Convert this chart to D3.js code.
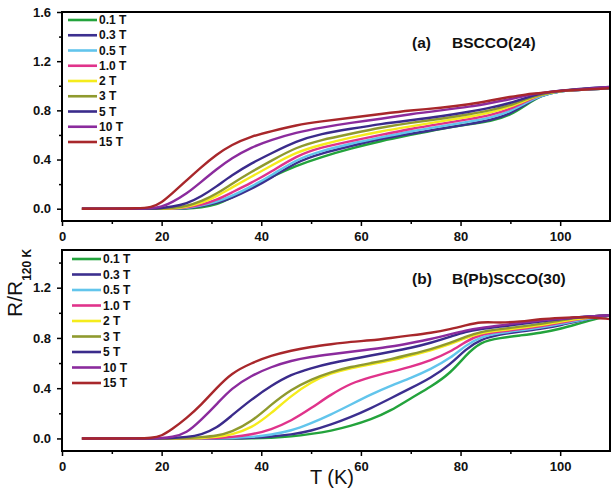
<!DOCTYPE html>
<html>
<head>
<meta charset="utf-8">
<script src="https://cdn.jsdelivr.net/npm/d3@7"></script>
<style>
  body { margin: 0; background: #fff; }
  svg { display: block; font-family: 'Liberation Sans', Arial, sans-serif; }
</style>
</head>
<body>
<div class="canvas"></div>
<script>
// field labels and colours, same order for both panels
const fields = ['0.1 T', '0.3 T', '0.5 T', '1.0 T', '2 T', '3 T', '5 T', '10 T', '15 T'];
const colors = ['#23a33c', '#3c2f8f', '#62c5ec', '#e0338b', '#f5ec1c', '#8f9a2e', '#3a2b8b', '#8b2b9d', '#a8272b'];

// (a) BSCCO(24)
const tempsA = [4, 10, 15, 18, 20, 22, 25, 28, 31, 34, 38, 42, 47, 52, 58, 64, 70, 76, 82, 86, 90, 93, 96, 100, 105, 110];
const a01 = [0, 0, 0, 0, 0, 0, 0, 0.01, 0.03, 0.09, 0.17, 0.26, 0.35, 0.42, 0.49, 0.55, 0.60, 0.65, 0.69, 0.71, 0.76, 0.84, 0.92, 0.96, 0.97, 0.98];
const a03 = [0, 0, 0, 0, 0, 0, 0.004, 0.02, 0.045, 0.085, 0.16, 0.25, 0.38, 0.45, 0.51, 0.57, 0.61, 0.65, 0.69, 0.72, 0.77, 0.85, 0.92, 0.96, 0.97, 0.98];
const a05 = [0, 0, 0, 0, 0, 0, 0.005, 0.025, 0.055, 0.10, 0.18, 0.27, 0.40, 0.47, 0.53, 0.58, 0.63, 0.67, 0.71, 0.74, 0.79, 0.86, 0.92, 0.96, 0.97, 0.98];
const a1 = [0, 0, 0, 0, 0, 0, 0.01, 0.03, 0.07, 0.13, 0.21, 0.30, 0.43, 0.50, 0.55, 0.60, 0.65, 0.69, 0.73, 0.76, 0.81, 0.87, 0.93, 0.96, 0.97, 0.985];
const a2 = [0, 0, 0, 0, 0, 0, 0.015, 0.045, 0.10, 0.17, 0.26, 0.35, 0.46, 0.52, 0.58, 0.63, 0.67, 0.71, 0.75, 0.78, 0.83, 0.88, 0.93, 0.96, 0.975, 0.985];
const a3 = [0, 0, 0, 0, 0, 0.005, 0.02, 0.06, 0.12, 0.20, 0.30, 0.39, 0.50, 0.56, 0.61, 0.66, 0.70, 0.73, 0.77, 0.80, 0.84, 0.89, 0.93, 0.96, 0.975, 0.985];
const a5 = [0, 0, 0, 0, 0.005, 0.015, 0.04, 0.10, 0.18, 0.27, 0.37, 0.45, 0.55, 0.61, 0.65, 0.69, 0.72, 0.75, 0.79, 0.82, 0.86, 0.90, 0.94, 0.96, 0.98, 0.99];
const a10 = [0, 0, 0, 0.005, 0.015, 0.05, 0.12, 0.22, 0.32, 0.41, 0.50, 0.56, 0.62, 0.66, 0.70, 0.73, 0.77, 0.80, 0.83, 0.86, 0.89, 0.92, 0.94, 0.96, 0.975, 0.99];
const a15 = [0, 0, 0.003, 0.01, 0.05, 0.12, 0.23, 0.34, 0.44, 0.52, 0.59, 0.63, 0.68, 0.71, 0.74, 0.77, 0.80, 0.82, 0.85, 0.88, 0.91, 0.93, 0.94, 0.96, 0.97, 0.98];

// (b) B(Pb)SCCO(30)
const tempsB = [4, 10, 15, 18, 20, 22, 25, 28, 31, 34, 38, 42, 46, 50, 54, 58, 62, 66, 70, 74, 78, 81, 84, 88, 92, 96, 100, 105, 110];
const b01 = [0, 0, 0, 0, 0, 0, 0, 0, 0, 0, 0, 0.005, 0.015, 0.035, 0.06, 0.10, 0.15, 0.22, 0.32, 0.41, 0.52, 0.66, 0.77, 0.80, 0.82, 0.84, 0.87, 0.93, 0.98];
const b03 = [0, 0, 0, 0, 0, 0, 0, 0, 0, 0, 0.005, 0.015, 0.03, 0.06, 0.11, 0.17, 0.24, 0.32, 0.40, 0.48, 0.59, 0.71, 0.79, 0.83, 0.85, 0.87, 0.90, 0.95, 0.98];
const b05 = [0, 0, 0, 0, 0, 0, 0, 0, 0, 0.003, 0.01, 0.03, 0.06, 0.12, 0.19, 0.27, 0.35, 0.42, 0.48, 0.55, 0.64, 0.74, 0.81, 0.84, 0.86, 0.88, 0.91, 0.95, 0.98];
const b1 = [0, 0, 0, 0, 0, 0, 0, 0, 0.003, 0.01, 0.03, 0.07, 0.14, 0.24, 0.35, 0.44, 0.49, 0.53, 0.57, 0.62, 0.69, 0.77, 0.83, 0.85, 0.87, 0.89, 0.92, 0.96, 0.98];
const b2 = [0, 0, 0, 0, 0, 0, 0, 0.003, 0.01, 0.03, 0.08, 0.20, 0.34, 0.45, 0.52, 0.56, 0.59, 0.62, 0.66, 0.70, 0.75, 0.80, 0.84, 0.86, 0.88, 0.90, 0.93, 0.96, 0.98];
const b3 = [0, 0, 0, 0, 0, 0, 0.003, 0.01, 0.02, 0.05, 0.13, 0.27, 0.39, 0.47, 0.53, 0.57, 0.60, 0.63, 0.67, 0.71, 0.76, 0.81, 0.85, 0.87, 0.89, 0.91, 0.94, 0.97, 0.98];
const b5 = [0, 0, 0, 0, 0, 0.003, 0.01, 0.03, 0.08, 0.18, 0.31, 0.42, 0.51, 0.56, 0.60, 0.63, 0.66, 0.69, 0.72, 0.76, 0.81, 0.85, 0.87, 0.89, 0.91, 0.93, 0.95, 0.97, 0.98];
const b10 = [0, 0, 0, 0, 0.003, 0.01, 0.04, 0.15, 0.27, 0.40, 0.50, 0.57, 0.62, 0.65, 0.67, 0.69, 0.71, 0.73, 0.76, 0.79, 0.83, 0.86, 0.88, 0.90, 0.92, 0.94, 0.95, 0.97, 0.98];
const b15 = [0, 0, 0, 0.003, 0.02, 0.07, 0.16, 0.27, 0.40, 0.52, 0.60, 0.66, 0.70, 0.73, 0.75, 0.77, 0.78, 0.80, 0.82, 0.84, 0.87, 0.90, 0.93, 0.92, 0.93, 0.95, 0.96, 0.97, 0.95];

const xTicks = [0, 20, 40, 60, 80, 100];
const xMinor = [10, 30, 50, 70, 90];

const svg = d3.select('.canvas')
    .append('svg')
    .attr('width', 611)
    .attr('height', 491);

svg.append('rect').attr('width', 611).attr('height', 491).attr('fill', '#fff');

const x = d3.scaleLinear().domain([0, 110]).range([62, 610]);

const panels = [
    { temps: tempsA, series: [a01, a03, a05, a1, a2, a3, a5, a10, a15], yDom: [-0.1, 1.6], top: 12, bottom: 221,
      yTicks: [0, 0.4, 0.8, 1.2, 1.6], yMinor: [0.2, 0.6, 1.0, 1.4], legX: 68, legY: 20, legStep: 15.25,
      tag: '(a)', name: 'BSCCO(24)', titleY: 48 },
    { temps: tempsB, series: [b01, b03, b05, b1, b2, b3, b5, b10, b15], yDom: [-0.1, 1.5], top: 250, bottom: 451,
      yTicks: [0, 0.4, 0.8, 1.2], yMinor: [0.2, 0.6, 1.0, 1.4], legX: 72, legY: 259, legStep: 15.5,
      tag: '(b)', name: 'B(Pb)SCCO(30)', titleY: 284 }
];

panels.forEach(p => {
    const y = d3.scaleLinear().domain(p.yDom).range([p.bottom, p.top]);
    const g = svg.append('g');

    // axes (ticks outward, bold labels)
    const yAxis = g.append('g').attr('transform', `translate(${x.range()[0]},0)`)
        .call(d3.axisLeft(y).tickValues(p.yTicks).tickFormat(d3.format('.1f')).tickSize(5).tickPadding(6));
    const yMin = g.append('g').attr('transform', `translate(${x.range()[0]},0)`)
        .call(d3.axisLeft(y).tickValues(p.yMinor).tickFormat('').tickSize(3));
    const xAxis = g.append('g').attr('transform', `translate(0,${p.bottom})`)
        .call(d3.axisBottom(x).tickValues(xTicks).tickSize(5).tickPadding(6));
    const xMin = g.append('g').attr('transform', `translate(0,${p.bottom})`)
        .call(d3.axisBottom(x).tickValues(xMinor).tickFormat('').tickSize(3));

    [yAxis, yMin, xAxis, xMin].forEach(a => {
        a.select('.domain').remove();
        a.selectAll('line').attr('stroke', '#000').attr('stroke-width', 1.5);
        a.selectAll('text')
            .attr('font-family', "'Liberation Sans', Arial, sans-serif")
            .attr('font-size', 13)
            .attr('font-weight', 'bold')
            .attr('fill', '#111');
    });

    // curves - basis smoothing, the measured curves have no corners
    const line = d3.line()
        .x((d, i) => x(p.temps[i]))
        .y(d => y(d))
        .curve(d3.curveBasis);

    g.selectAll('path.curve')
        .data(p.series)
        .enter()
        .append('path')
            .attr('class', 'curve')
            .attr('fill', 'none')
            .attr('stroke', (d, i) => colors[i])
            .attr('stroke-width', 2.4)
            .attr('stroke-linejoin', 'round')
            .attr('d', line);

    // frame
    g.append('rect')
        .attr('x', x.range()[0])
        .attr('y', p.top)
        .attr('width', x.range()[1] - x.range()[0])
        .attr('height', p.bottom - p.top)
        .attr('fill', 'none')
        .attr('stroke', '#000')
        .attr('stroke-width', 2);

    // legend
    const leg = g.append('g');
    fields.forEach((f, i) => {
        const ly = p.legY + i * p.legStep;
        leg.append('line')
            .attr('x1', p.legX).attr('x2', p.legX + 29)
            .attr('y1', ly).attr('y2', ly)
            .attr('stroke', colors[i])
            .attr('stroke-width', 2.6);
        leg.append('text')
            .attr('x', p.legX + 31)
            .attr('y', ly + 4.2)
            .attr('font-size', 12)
            .attr('font-weight', 'bold')
            .attr('fill', '#111')
            .text(f);
    });

    // panel title
    g.append('text').attr('x', 412).attr('y', p.titleY)
        .attr('font-size', 15.5).attr('font-weight', 'bold').attr('fill', '#111')
        .text(p.tag);
    g.append('text').attr('x', 452).attr('y', p.titleY)
        .attr('font-size', 15.5).attr('font-weight', 'bold').attr('fill', '#111')
        .text(p.name);
});

// axis titles
svg.append('text')
    .attr('x', 332).attr('y', 484)
    .attr('text-anchor', 'middle')
    .attr('font-size', 20)
    .attr('fill', '#111')
    .text('T (K)');

const yt = svg.append('text')
    .attr('transform', 'translate(22,317) rotate(-90)')
    .attr('font-size', 21)
    .attr('fill', '#111');
yt.append('tspan').text('R/R');
yt.append('tspan').attr('dy', 9).attr('font-size', 12).attr('font-weight', 'bold').text('120 K');
</script>
</body>
</html>
